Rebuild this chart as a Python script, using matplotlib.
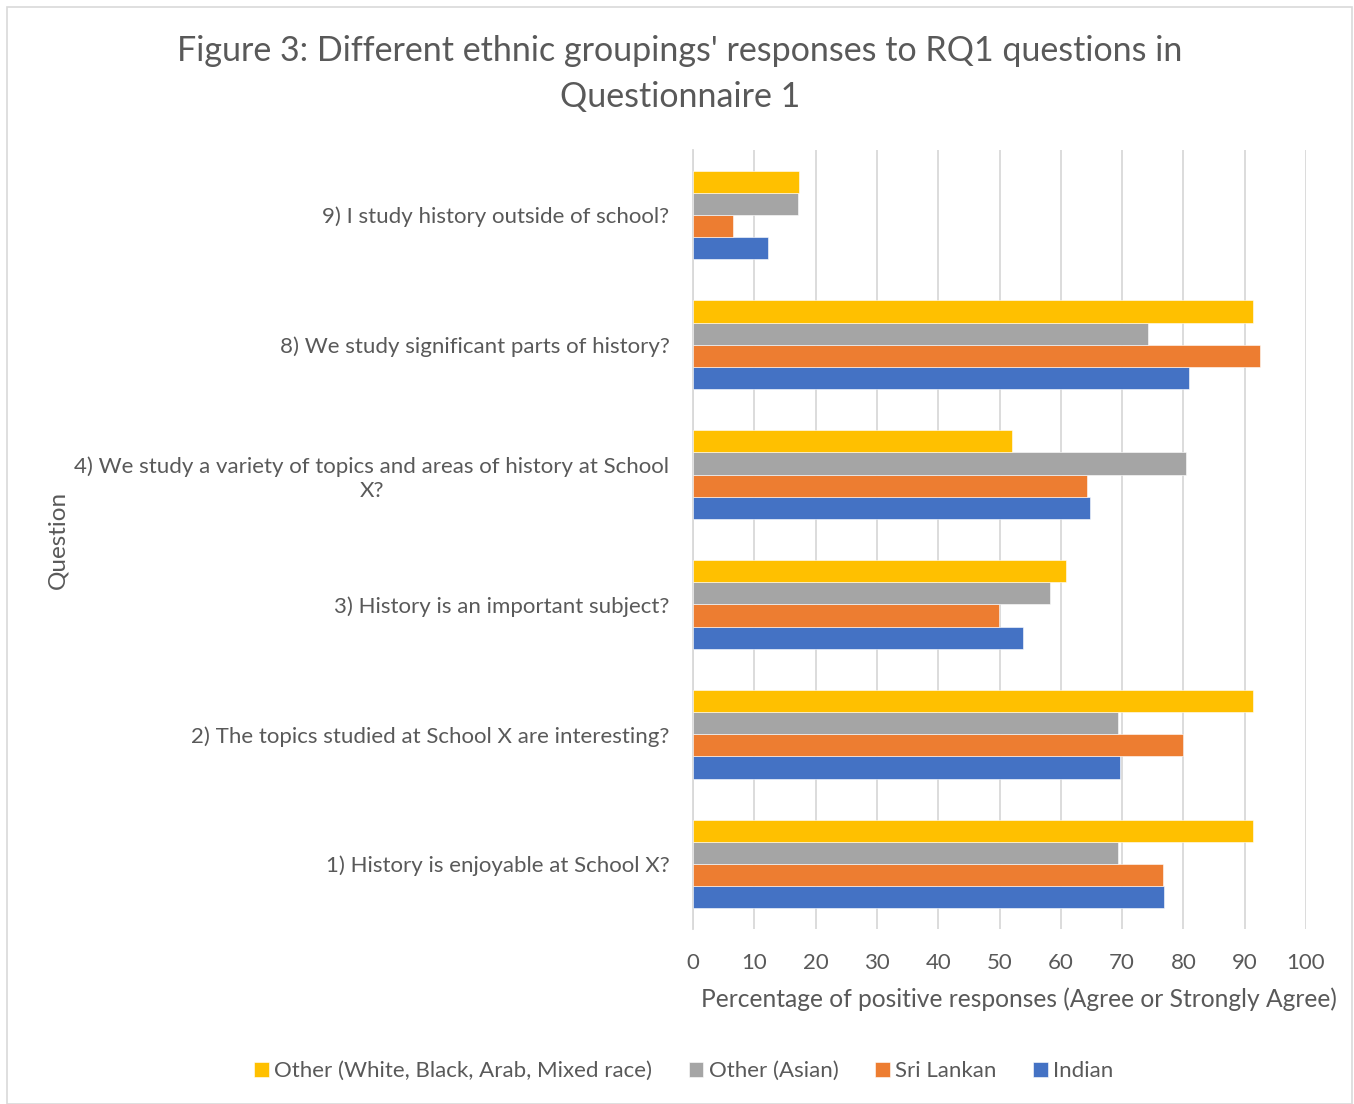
import matplotlib
matplotlib.use("Agg")
import matplotlib.pyplot as plt
import numpy as np
from matplotlib.patches import Rectangle

plt.rcParams['font.family'] = ['Lato', 'DejaVu Sans']

# Questions, listed bottom to top as they sit on the y axis
questions = [
    "1) History is enjoyable at School X?",
    "2) The topics studied at School X are interesting?",
    "3) History is an important subject?",
    "4) We study a variety of topics and areas of history at School\nX?",
    "8) We study significant parts of history?",
    "9) I study history outside of school?",
]

indian = [76.9, 69.6, 53.8, 64.7, 80.9, 12.2]
sri_lankan = [76.6, 79.9, 49.9, 64.3, 92.5, 6.5]
other_asian = [69.4, 69.4, 58.2, 80.5, 74.2, 17.1]
other_mixed = [91.3, 91.3, 60.8, 52.1, 91.3, 17.3]

series_names = ["Indian", "Sri Lankan", "Other (Asian)", "Other (White, Black, Arab, Mixed race)"]
series_colors = ["#4472C4", "#ED7D31", "#A5A5A5", "#FFC000"]
xticks = [0, 10, 20, 30, 40, 50, 60, 70, 80, 90, 100]

text_col = "#595959"
grid_col = "#D9D9D9"

W, H = 1354, 1104
fig = plt.figure(figsize=(W / 100, H / 100), dpi=100)
fig.patch.set_facecolor("white")

# outer chart border
fig.patches.append(Rectangle((7 / W, 0), (1352 - 7) / W, 1 - 7 / H,
                             transform=fig.transFigure, fill=False,
                             edgecolor=grid_col, linewidth=1.2))

ax = fig.add_axes([693 / W, 1 - 929 / H, (1306 - 693) / W, (929 - 150) / H])

y = np.arange(len(questions))
bar_h = 0.171
all_series = [indian, sri_lankan, other_asian, other_mixed]
handles = []
for i, (vals, name, col) in enumerate(zip(all_series, series_names, series_colors)):
    offs = (i - 1.5) * bar_h
    b = ax.barh(y + offs, vals, height=bar_h, color=col, label=name,
                edgecolor="white", linewidth=0.4, zorder=3)
    handles.append(b)

ax.set_xlim(0, 100)
ax.set_ylim(-0.5, len(questions) - 0.5)
ax.set_xticks(xticks)
ax.set_xticklabels([str(t) for t in xticks])
ax.set_yticks(y)
ax.set_yticklabels(questions, multialignment="center", linespacing=1.25)

ax.grid(axis="x", color=grid_col, linewidth=1.3, zorder=0)
ax.grid(axis="y", visible=False)
for s in ["top", "right", "bottom"]:
    ax.spines[s].set_visible(False)
ax.spines["left"].set_color(grid_col)
ax.spines["left"].set_linewidth(1.3)
ax.spines["left"].set_zorder(0)

ax.tick_params(axis="both", length=0, labelcolor=text_col, labelsize=16)
ax.tick_params(axis="y", pad=17)
ax.tick_params(axis="x", pad=17)

fig.text(1019 / W, 1 - 999 / H,
         "Percentage of positive responses (Agree or Strongly Agree)",
         ha="center", va="center", fontsize=17.7, color=text_col)
fig.text(58 / W, 1 - 540 / H, "Question", rotation=90,
         ha="center", va="center", fontsize=17.5, color=text_col)

fig.text(680 / W, 1 - 74 / H,
         "Figure 3: Different ethnic groupings' responses to RQ1 questions in\nQuestionnaire 1",
         ha="center", va="center", fontsize=24.5, color=text_col, linespacing=1.55)

# legend order runs from the top bar down
leg = fig.legend(handles[::-1], series_names[::-1], loc="center",
                 bbox_to_anchor=(684 / W, 1 - 1071 / H), ncol=4, frameon=False,
                 fontsize=16, handlelength=0.65, handleheight=0.65,
                 handletextpad=0.25, columnspacing=1.65)
for t in leg.get_texts():
    t.set_color(text_col)

fig.savefig("out.png", dpi=100, facecolor="white")
